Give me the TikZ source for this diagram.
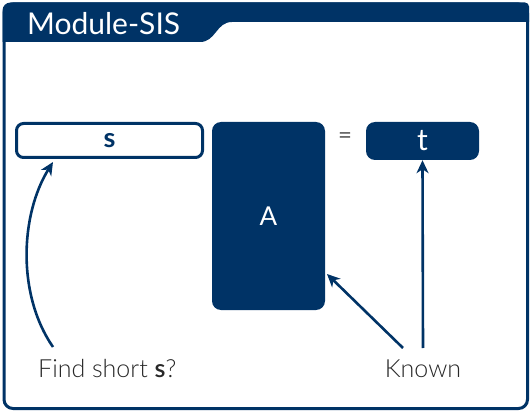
\documentclass[tikz,border=0pt]{standalone}
\usepackage{fontspec}
\setmainfont{Lato}
\newfontfamily\lightfont{Lato Light}
\usetikzlibrary{arrows.meta}
\definecolor{navy}{RGB}{0,51,102}
\definecolor{labelgray}{RGB}{40,40,40}
\definecolor{eqgray}{RGB}{90,90,90}
\tikzset{
  frameline/.style={draw=navy, line width=3pt},
  outlinebox/.style={draw=navy, line width=3pt, fill=white, rounded corners=7pt,
    inner sep=0pt, text=navy, font=\fontsize{27}{30}\selectfont\bfseries},
  solidbox/.style={fill=navy, rounded corners=9pt, inner sep=0pt, text=white},
  caption/.style={text=labelgray, font=\lightfont\fontsize{25}{30}\selectfont, inner sep=0pt},
  pointer/.style={draw=navy, line width=2.6pt,
    -{Stealth[length=13pt,width=12pt,inset=4pt]}}
}
\begin{document}
\begin{tikzpicture}[x=1pt,y=-1pt]
  \useasboundingbox (0,0) rectangle (531,412);
  % outer frame
  \draw[frameline, rounded corners=9pt] (4,4) rectangle (527.5,408.5);
  % header band with title tab
  \fill[navy] (2.5,42) [rounded corners=8pt] -- (2.5,2.5)
    [rounded corners=4pt] -- (529,2.5) [sharp corners] -- (529,22)
    -- (232,22) .. controls (216,22) and (216,42) .. (200,42)
    -- cycle;
  \node[anchor=base west, text=white, inner sep=0pt,
        font=\fontsize{30}{36}\selectfont] (title) at (27,35) {Module-SIS};

  % equation boxes
  \node[outlinebox, minimum width=186pt, minimum height=34pt] (s) at (109.5,140.5) {s};
  \node[solidbox, minimum width=113pt, minimum height=188pt,
        font=\fontsize{26}{30}\selectfont] (A) at (268.5,216) {A};
  \node[text=eqgray, inner sep=0pt, font=\fontsize{24}{28}\selectfont] (eq) at (345,138) {=};
  \node[solidbox, minimum width=113pt, minimum height=38pt,
        font=\fontsize{30}{34}\selectfont] (t) at (422.5,141) {t};

  % captions
  \node[caption, anchor=base west] (find) at (38,377) {Find short \textbf{s}?};
  \node[caption, anchor=base] (known) at (423,377) {Known};

  % pointers
  \coordinate (findtop) at (53,347);
  \coordinate (stip) at (53,162);
  \coordinate (knownleft) at (403,348);
  \coordinate (knowntop) at (423,348);
  \coordinate (Atip) at (327,274);
  \draw[pointer] (findtop) .. controls (17,295) and (20,215) .. (stip);
  \draw[pointer] (knownleft) -- (Atip);
  \draw[pointer] (knowntop) -- (t.south);
\end{tikzpicture}
\end{document}
